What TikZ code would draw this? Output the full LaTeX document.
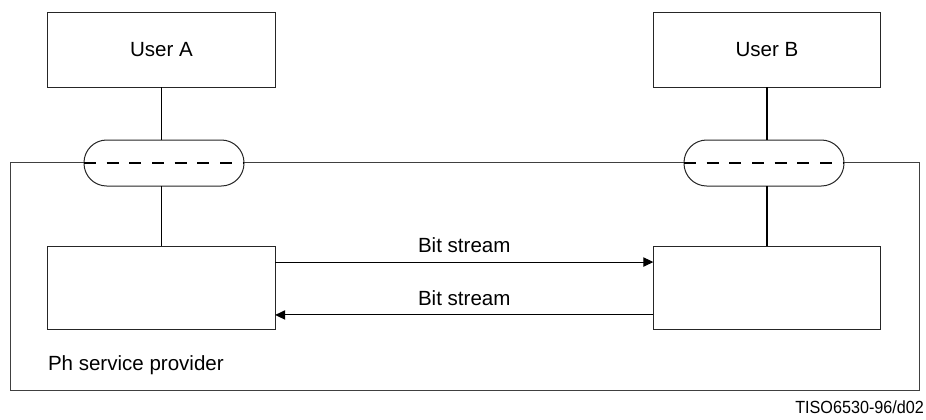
\documentclass[tikz,border=0pt]{standalone}
\usepackage{fontspec}
\setmainfont{Liberation Sans}
\usetikzlibrary{arrows.meta,calc}
\begin{document}
\begin{tikzpicture}[x=0.75pt,y=-0.75pt,
  every node/.style={font=\fontsize{15.4}{18}\selectfont, inner sep=0pt, outer sep=0pt},
  box/.style={draw=black!85, line width=0.75pt, fill=white, minimum width=170.5pt},
  userbox/.style={box, minimum height=56.25pt},
  lowbox/.style={box, minimum height=62.25pt},
  frame/.style={draw=black!75, line width=0.75pt, minimum width=681.75pt, minimum height=171pt},
  sap/.style={draw=black!85, line width=0.75pt, fill=white, rounded corners=17pt, minimum width=120pt, minimum height=34.5pt},
  link/.style={draw=black, line width=1.1pt},
  sapline/.style={draw=black, line width=1.1pt, dash pattern=on 9pt off 8pt},
  flow/.style={draw=black, line width=0.75pt, -{Triangle[length=7.5pt,width=7pt]}},
  lbl/.style={anchor=base}
]
\useasboundingbox (0,0) rectangle (926,419);
\node[frame] (provider) at (464.5,276) {};
\node[userbox] (ua) at (161.5,49.5) {User A};
\node[userbox] (ub) at (767,49.5) {User B};
\node[lowbox] (la) at (161.5,287.5) {};
\node[lowbox] (lb) at (767,287.5) {};
\node[sap] (sa) at (164,163) {};
\node[sap] (sb) at (764,163) {};
\draw[sapline] (sa.west) -- (sa.east);
\draw[sapline] (sb.west) -- (sb.east);
\draw[link] (ua.south) -- (ua.south |- sa.north);
\draw[link] (la.north |- sa.south) -- (la.north);
\draw[link] (ub.south) -- (ub.south |- sb.north);
\draw[link] (lb.north |- sb.south) -- (lb.north);
\draw[flow] ([yshift=19.1pt]la.east) -- ([yshift=19.1pt]lb.west)
  node[pos=0.5, above=7pt] (bs1) {Bit stream};
\draw[flow] ([yshift=-20.6pt]lb.west) -- ([yshift=-20.6pt]la.east)
  node[pos=0.5, above=7pt] (bs2) {Bit stream};
\node[anchor=west] (prov) at (48,365) {Ph service provider};
\node[anchor=base east, font=\fontsize{13.2}{15}\selectfont] (tag) at (924,413) {\scalebox{0.92}[1]{TISO6530-96/d02}};
\end{tikzpicture}
\end{document}
